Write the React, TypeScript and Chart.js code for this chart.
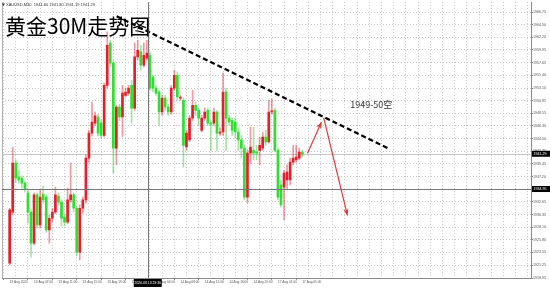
import React, { useEffect, useRef } from 'react';
import { Chart, registerables } from 'chart.js';

Chart.register(...registerables);

// ---- data (30M candles, XAUUSD) ----
const opens = [1921.6,1930.8,1939.6,1937.1,1936.9,1936.0,1934.2,1930.8,1925.2,1933.9,1928.5,1934.0,1933.5,1927.6,1929.7,1930.8,1933.7,1932.6,1929.9,1929.0,1933.0,1933.9,1931.5,1923.6,1931.5,1933.0,1940.5,1945.0,1946.8,1947.9,1946.8,1944.6,1953.6,1961.2,1957.6,1942.3,1949.7,1947.9,1951.8,1952.2,1953.6,1949.5,1958.7,1959.6,1957.2,1958.5,1959.0,1955.1,1953.1,1952.4,1948.8,1951.3,1949.7,1948.8,1953.1,1955.4,1951.3,1950.9,1942.5,1943.8,1947.7,1950.0,1949.1,1945.5,1947.7,1949.1,1946.8,1946.8,1948.8,1945.0,1945.2,1952.4,1947.7,1947.3,1947.0,1945.2,1943.8,1942.3,1933.5,1941.4,1941.9,1941.6,1941.9,1942.3,1944.3,1943.4,1948.8,1949.1,1941.9,1935.7,1935.3,1936.6,1936.6,1939.8,1940.2,1940.5,1941.6];
const highs = [1931.5,1942.5,1940.2,1938.3,1937.3,1936.4,1934.8,1931.2,1934.2,1934.2,1934.8,1935.5,1933.9,1930.3,1931.5,1935.3,1934.2,1933.0,1930.5,1935.1,1939.6,1934.2,1931.9,1932.1,1933.5,1941.1,1945.5,1950.6,1948.8,1948.4,1947.3,1954.0,1963.2,1961.7,1958.1,1950.0,1950.2,1953.6,1953.1,1953.6,1954.5,1961.2,1961.7,1960.8,1961.2,1961.7,1959.6,1955.4,1953.6,1952.7,1951.8,1951.8,1950.2,1953.6,1956.3,1956.0,1951.8,1951.3,1945.5,1948.2,1952.7,1950.6,1949.5,1948.2,1949.5,1949.5,1947.3,1949.5,1949.1,1945.9,1955.8,1953.1,1948.2,1947.7,1947.7,1945.9,1944.6,1942.8,1941.9,1946.1,1946.1,1942.8,1944.3,1945.2,1945.5,1950.9,1951.1,1949.5,1942.3,1936.6,1938.3,1939.3,1940.5,1942.8,1942.8,1942.3,1941.9];
const lows = [1921.3,1930.3,1936.2,1936.0,1935.1,1934.4,1928.8,1922.7,1924.9,1927.9,1927.9,1932.4,1927.2,1925.2,1929.0,1930.5,1932.1,1928.3,1928.3,1928.7,1932.6,1930.8,1922.9,1922.2,1930.6,1932.4,1939.8,1944.5,1946.3,1944.5,1944.1,1944.3,1953.1,1957.0,1937.8,1939.3,1947.3,1944.3,1951.5,1951.8,1946.8,1949.1,1958.1,1956.3,1956.9,1958.1,1952.7,1952.4,1951.8,1946.4,1948.2,1949.1,1948.2,1948.4,1952.7,1950.9,1950.9,1938.9,1941.9,1943.4,1947.3,1948.2,1946.4,1945.2,1947.3,1946.4,1941.9,1946.3,1941.9,1944.6,1944.6,1941.9,1946.4,1944.6,1944.1,1941.9,1940.5,1933.0,1932.4,1939.6,1940.2,1940.2,1939.3,1941.9,1942.8,1943.2,1948.4,1941.6,1933.0,1931.7,1929.4,1934.8,1935.7,1939.3,1939.8,1940.2,1940.7];
const closes = [1931.2,1939.6,1936.9,1936.6,1936.0,1934.9,1930.8,1925.2,1933.9,1928.5,1933.5,1933.0,1927.6,1929.7,1930.8,1933.9,1932.6,1929.7,1929.0,1933.0,1933.9,1931.5,1923.6,1931.5,1933.0,1940.5,1945.0,1947.0,1948.1,1945.0,1944.6,1953.6,1960.8,1957.6,1942.3,1949.7,1947.9,1952.2,1952.4,1953.1,1949.5,1958.7,1959.9,1957.2,1959.0,1959.4,1953.1,1953.1,1952.2,1948.8,1951.3,1949.7,1948.8,1953.1,1955.4,1951.5,1951.5,1942.8,1945.0,1947.7,1950.0,1949.1,1947.7,1947.7,1948.8,1946.8,1946.6,1948.8,1945.0,1945.2,1952.4,1947.7,1947.0,1945.5,1945.2,1943.8,1942.3,1933.5,1941.4,1942.5,1941.4,1941.4,1942.8,1944.3,1943.4,1948.8,1949.0,1941.9,1933.5,1932.1,1937.8,1938.0,1939.8,1940.5,1940.7,1941.6,1941.1];

const yTicks = [1966.75,1964.50,1962.20,1959.95,1957.65,1955.40,1953.10,1950.85,1948.55,1946.30,1944.00,1941.75,1939.45,1937.20,1934.90,1932.65,1930.35,1928.10,1925.80,1923.55,1921.25,1918.95];
const xLabelIdx = [0,8,16,24,32,40,48,56,64,72,80,88,96];
const xLabels = ['13 Aug 2020','13 Aug 07:00','13 Aug 11:00','13 Aug 15:00','13 Aug 19:00','13 Aug 23:00','14 Aug 04:00','14 Aug 08:00','14 Aug 12:00','14 Aug 16:00','14 Aug 20:00','17 Aug 01:00','17 Aug 05:00'];

const trendX = [35.1, 124.8];
const trendY = [1966.0, 1942.1];
const upArrowX = [97.7, 102.3];
const upArrowY = [1941.4, 1947.0];
const downArrowX = [103.0, 110.8];
const downArrowY = [1947.8, 1930.2];

const noteX = 111.7;
const noteY = 1950.2;
const noteText = '1949-50空';
const titleText = '黄金30M走势图';
const infoText = 'XAUUSD,M30  1941.60 1941.80 1941.19 1941.29';
const bidPrice = 1941.29;
const crossPrice = 1934.95;
const crossIdx = 45.3;
const crossTimeText = '2020.08.13 23:30';

const X_MIN = -0.5;
const X_MAX = 169;
const Y_MIN = 1918.95;
const Y_MAX = 1968.55;

const UP = '#e3202a';
const DOWN = '#2fe02f';
const UP_WICK = 'rgba(227,32,42,0.45)';
const DOWN_WICK = 'rgba(47,200,47,0.45)';

const overlay = {
  id: 'overlay',
  beforeDatasetsDraw(chart: any) {
    const { ctx, chartArea: a, scales } = chart;
    const y = scales.y;
    ctx.save();
    // left frame line
    ctx.strokeStyle = '#b0b0b0';
    ctx.lineWidth = 1;
    ctx.beginPath();
    ctx.moveTo(a.left + 0.5, a.top);
    ctx.lineTo(a.left + 0.5, a.bottom);
    ctx.stroke();
    // bid line
    const py = Math.round(y.getPixelForValue(bidPrice)) + 0.5;
    ctx.strokeStyle = '#c8c8c8';
    ctx.beginPath();
    ctx.moveTo(a.left, py);
    ctx.lineTo(a.right, py);
    ctx.stroke();
    ctx.restore();
  },
  afterDatasetsDraw(chart: any) {
    const { ctx, chartArea: a, scales } = chart;
    const x = scales.x;
    const y = scales.y;
    ctx.save();
    // arrowheads
    chart.data.datasets.forEach((ds: any, i: number) => {
      if (!ds.arrow) return;
      const pts = chart.getDatasetMeta(i).data;
      const p1 = pts[pts.length - 2];
      const p2 = pts[pts.length - 1];
      const ang = Math.atan2(p2.y - p1.y, p2.x - p1.x);
      const L = 7;
      const spread = 0.38;
      ctx.fillStyle = ds.borderColor;
      ctx.beginPath();
      ctx.moveTo(p2.x, p2.y);
      ctx.lineTo(p2.x - L * Math.cos(ang - spread), p2.y - L * Math.sin(ang - spread));
      ctx.lineTo(p2.x - L * 0.7 * Math.cos(ang), p2.y - L * 0.7 * Math.sin(ang));
      ctx.lineTo(p2.x - L * Math.cos(ang + spread), p2.y - L * Math.sin(ang + spread));
      ctx.closePath();
      ctx.fill();
    });
    // note text
    ctx.fillStyle = '#333';
    ctx.font = '9px "Noto Sans CJK SC", "DejaVu Sans", sans-serif';
    ctx.textBaseline = 'middle';
    ctx.textAlign = 'left';
    ctx.fillText(noteText, x.getPixelForValue(noteX), y.getPixelForValue(noteY));
    // crosshair
    const cx = Math.round(x.getPixelForValue(crossIdx)) + 0.5;
    const cy = Math.round(y.getPixelForValue(crossPrice)) + 0.5;
    ctx.strokeStyle = '#777';
    ctx.lineWidth = 1;
    ctx.beginPath();
    ctx.moveTo(cx, a.top);
    ctx.lineTo(cx, a.bottom);
    ctx.moveTo(a.left, cy);
    ctx.lineTo(a.right, cy);
    ctx.stroke();
    ctx.restore();
  },
  afterDraw(chart: any) {
    const { ctx, chartArea: a, scales } = chart;
    const x = scales.x;
    const y = scales.y;
    ctx.save();
    // title
    ctx.fillStyle = '#000';
    ctx.font = '21px "Noto Sans CJK SC", sans-serif';
    ctx.textBaseline = 'middle';
    ctx.textAlign = 'left';
    ctx.fillText(titleText, 5, 26);
    // info text
    ctx.font = '4px "Liberation Sans", sans-serif';
    ctx.fillStyle = '#333';
    ctx.fillText(infoText, 6, 5);
    ctx.beginPath();
    ctx.moveTo(2, 3.5);
    ctx.lineTo(5, 3.5);
    ctx.lineTo(3.5, 6);
    ctx.closePath();
    ctx.fill();
    // price boxes on the y axis
    const box = (val: number, txt: string) => {
      const py = y.getPixelForValue(val);
      ctx.fillStyle = '#000';
      ctx.fillRect(a.right + 1, py - 3, 18, 6);
      ctx.fillStyle = '#fff';
      ctx.font = '3.6px "Liberation Sans", sans-serif';
      ctx.textAlign = 'left';
      ctx.textBaseline = 'middle';
      ctx.fillText(txt, a.right + 2.5, py);
    };
    box(bidPrice, bidPrice.toFixed(2));
    box(crossPrice, crossPrice.toFixed(2));
    // time box on the x axis
    const cx = x.getPixelForValue(crossIdx);
    ctx.fillStyle = '#000';
    ctx.fillRect(cx - 14, a.bottom + 1, 28, 8);
    ctx.fillStyle = '#fff';
    ctx.font = '3.4px "Liberation Sans", sans-serif';
    ctx.textAlign = 'center';
    ctx.textBaseline = 'middle';
    ctx.fillText(crossTimeText, cx, a.bottom + 5);
    ctx.restore();
  },
};

export default function App() {
  const ref = useRef<HTMLCanvasElement>(null);
  useEffect(() => {
    if (!ref.current) return;
    const idx = opens.map((_, i) => i);
    const isUp = idx.map((i) => closes[i] >= opens[i]);
    const gridIdx: number[] = [];
    for (let v = 0; v <= X_MAX; v += 4) gridIdx.push(v);

    const chart = new Chart(ref.current, {
      type: 'bar',
      data: {
        datasets: [
          {
            type: 'line',
            data: trendX.map((v, i) => ({ x: v, y: trendY[i] })),
            borderColor: '#000',
            borderWidth: 2.2,
            borderDash: [5, 3],
            pointRadius: 0,
            order: 0,
          } as any,
          {
            type: 'line',
            data: upArrowX.map((v, i) => ({ x: v, y: upArrowY[i] })),
            borderColor: '#e23a3a',
            borderWidth: 1.2,
            pointRadius: 0,
            order: 0,
            arrow: true,
          } as any,
          {
            type: 'line',
            data: downArrowX.map((v, i) => ({ x: v, y: downArrowY[i] })),
            borderColor: '#e23a3a',
            borderWidth: 1.2,
            pointRadius: 0,
            order: 0,
            arrow: true,
          } as any,
          {
            type: 'bar',
            data: idx.map((i) => ({ x: i, y: [lows[i], highs[i]] })),
            backgroundColor: isUp.map((u) => (u ? UP_WICK : DOWN_WICK)),
            barThickness: 1,
            grouped: false,
            order: 3,
          } as any,
          {
            type: 'bar',
            data: idx.map((i) => ({ x: i, y: [opens[i], closes[i]] })),
            backgroundColor: isUp.map((u) => (u ? UP : DOWN)),
            barThickness: 2,
            minBarLength: 1,
            grouped: false,
            order: 2,
          } as any,
        ],
      },
      options: {
        responsive: false,
        animation: false,
        layout: { padding: { left: 2, top: 2, right: 0, bottom: 0 } },
        plugins: { legend: { display: false }, tooltip: { enabled: false } },
        scales: {
          x: {
            type: 'linear',
            min: X_MIN,
            max: X_MAX,
            position: 'bottom',
            afterBuildTicks: (s: any) => {
              s.ticks = gridIdx.map((v) => ({ value: v }));
            },
            afterFit: (s: any) => {
              s.height = 10;
            },
            grid: {
              color: '#c4c4c4',
              tickLength: 2,
              tickColor: (c: any) => (c.tick && xLabelIdx.includes(c.tick.value) ? '#888' : 'rgba(0,0,0,0)'),
            },
            border: { display: true, color: '#8a8a8a', dash: [1, 2] },
            ticks: {
              autoSkip: false,
              maxRotation: 0,
              minRotation: 0,
              align: 'start',
              padding: 0,
              color: '#555',
              font: { size: 3.2, family: 'Liberation Sans' },
              callback: (v: any) => {
                const k = xLabelIdx.indexOf(Number(v));
                return k >= 0 ? xLabels[k] : '';
              },
            },
          },
          y: {
            type: 'linear',
            position: 'right',
            min: Y_MIN,
            max: Y_MAX,
            afterBuildTicks: (s: any) => {
              s.ticks = yTicks.map((v) => ({ value: v }));
            },
            afterFit: (s: any) => {
              s.width = 19;
            },
            grid: { color: '#c4c4c4', tickLength: 2, tickColor: '#888' },
            border: { display: true, color: '#8a8a8a', dash: [1, 2] },
            ticks: {
              padding: 0,
              color: '#555',
              font: { size: 3.6, family: 'Liberation Sans' },
              callback: (v: any) => Number(v).toFixed(2),
            },
          },
        },
      } as any,
      plugins: [overlay],
    });
    return () => chart.destroy();
  }, []);

  return (
    <div style={{ position: 'fixed', left: 0, top: 0, width: 550, height: 288, background: '#fff' }}>
      <canvas ref={ref} width={550} height={288} style={{ display: 'block' }} />
    </div>
  );
}
